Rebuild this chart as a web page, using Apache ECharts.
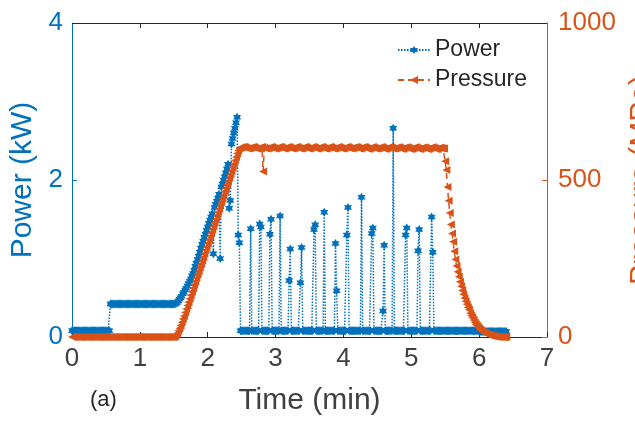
<!DOCTYPE html>
<html><head><meta charset="utf-8">
<script src="https://cdn.jsdelivr.net/npm/echarts@6/dist/echarts.min.js"></script>
<style>html,body{margin:0;padding:0;background:#fff}#c{width:635px;height:428px}</style>
</head><body><div id="c"></div>
<script>
// Samples are one second apart (time in minutes = index * SAMPLE_STEP_MIN)
const SAMPLE_STEP_MIN = 1 / 60;

// Power (kW), one value per second, 0 .. 6.4 min
const power = [
  // 0.0 - 0.5 min
  0.08,0.08,0.08,0.08,0.08,0.08,0.08,0.08,0.08,0.08, 0.08,0.08,0.08,0.08,0.08,0.08,0.08,0.08,0.08,0.08, 0.08,0.08,0.08,0.08,0.08,0.08,0.08,0.08,0.08,0.08,
  // 0.5 - 1.0
  0.08,0.08,0.08,0.08,0.42,0.42,0.42,0.42,0.42,0.42, 0.42,0.42,0.42,0.42,0.42,0.42,0.42,0.42,0.42,0.42, 0.42,0.42,0.42,0.42,0.42,0.42,0.42,0.42,0.42,0.42,
  // 1.0 - 1.5
  0.42,0.42,0.42,0.42,0.42,0.42,0.42,0.42,0.42,0.42, 0.42,0.42,0.42,0.42,0.42,0.42,0.42,0.42,0.42,0.42, 0.42,0.42,0.42,0.42,0.42,0.42,0.42,0.42,0.42,0.42,
  // 1.5 - 2.0
  0.42,0.42,0.43,0.44,0.46,0.48,0.50,0.52,0.55,0.57, 0.60,0.62,0.65,0.68,0.71,0.74,0.78,0.81,0.85,0.90, 0.94,0.99,1.03,1.08,1.13,1.18,1.22,1.27,1.31,1.36,
  // 2.0 - 2.5
  1.40,1.45,1.49,1.53,1.57,1.06,1.65,1.69,1.73,1.77, 1.82,1.00,1.91,1.95,2.00,2.04,2.09,2.14,2.20,1.64, 1.74,2.46,2.53,2.60,2.66,2.73,2.80,1.30,1.20,0.08,
  // 2.5 - 3.0
  0.08,0.08,0.08,0.08,0.08,0.08,0.08,0.08,1.38,0.08, 0.08,0.08,0.08,0.08,0.08,0.08,1.44,1.40,0.08,0.08, 0.08,0.08,0.08,0.08,0.08,1.31,1.50,0.08,0.08,0.08,
  // 3.0 - 3.5
  0.08,0.08,0.08,0.08,1.54,0.08,0.08,0.08,0.08,0.08, 0.08,0.08,0.72,1.12,0.08,0.08,0.08,0.08,0.08,0.08, 0.08,0.08,0.69,1.14,0.08,0.08,0.08,0.08,0.08,0.08,
  // 3.5 - 4.0
  0.08,0.08,0.08,0.08,1.37,1.43,0.08,0.08,0.08,0.08, 0.08,0.08,0.08,1.59,0.08,0.08,0.08,0.08,0.08,0.08, 0.08,0.08,0.08,1.19,0.59,0.08,0.08,0.08,0.08,0.08,
  // 4.0 - 4.5
  0.08,0.08,0.08,1.30,1.65,0.08,0.08,0.08,0.08,0.08, 0.08,0.08,0.08,0.08,0.08,0.08,1.78,0.08,0.08,0.08, 0.08,0.08,0.08,0.08,0.08,1.32,1.39,0.08,0.08,0.08,
  // 4.5 - 5.0
  0.08,0.08,0.08,0.08,0.08,0.33,1.17,0.08,0.08,0.08, 0.08,0.08,0.08,0.08,2.66,0.08,0.08,0.08,0.08,0.08, 0.08,0.08,0.08,0.08,0.08,1.30,1.39,0.08,0.08,0.08,
  // 5.0 - 5.5
  0.08,0.08,0.08,0.08,0.08,0.08,1.10,1.37,0.08,0.08, 0.08,0.08,0.08,0.08,0.08,0.08,0.08,0.08,1.53,1.08, 0.08,0.08,0.08,0.08,0.08,0.08,0.08,0.08,0.08,0.08,
  // 5.5 - 6.0
  0.08,0.08,0.08,0.08,0.08,0.08,0.08,0.08,0.08,0.08, 0.08,0.08,0.08,0.08,0.08,0.08,0.08,0.08,0.08,0.08, 0.08,0.08,0.08,0.08,0.08,0.08,0.08,0.08,0.08,0.08,
  // 6.0 - 6.4
  0.07,0.07,0.07,0.07,0.07,0.07,0.07,0.07,0.07,0.07, 0.07,0.07,0.07,0.07,0.07,0.07,0.07,0.07,0.07,0.07, 0.07,0.07,0.07,0.07,0.07
];

// Pressure (MPa), one value per second, 0 .. 6.4 min
const pressure = [
  // 0.0 - 1.5 min
  0,0,0,0,0,0,0,0,0,0, 0,0,0,0,0,0,0,0,0,0, 0,0,0,0,0,0,0,0,0,0,
  0,0,0,0,0,0,0,0,0,0, 0,0,0,0,0,0,0,0,0,0, 0,0,0,0,0,0,0,0,0,0,
  0,0,0,0,0,0,0,0,0,0, 0,0,0,0,0,0,0,0,0,0, 0,0,0,0,0,0,0,0,0,0,
  // 1.5 - 2.0
  0,2,6,12,20,28,37,47,57,67, 78,89,100,111,122,133,144,155,166,177, 188,199,210,221,232,243,254,265,276,287,
  // 2.0 - 2.5
  298,309,320,331,342,353,364,375,386,397, 408,419,430,441,452,463,474,485,496,507, 518,529,540,551,562,573,584,594,601,603,
  // 2.5 - 3.0
  604,605,605,604,602,601,600,601,603,604, 605,604,602,600,600,601,603,604,605,527, 603,601,600,600,602,604,605,604,602,600,
  // 3.0 - 3.5
  600,601,603,605,605,604,602,600,600,602, 604,605,604,602,601,600,601,603,605,605, 603,601,600,600,602,604,605,604,602,600,
  // 3.5 - 4.0
  600,602,604,605,604,602,600,600,601,603, 605,605,603,601,600,600,602,604,605,604, 602,600,600,601,603,605,605,603,601,600,
  // 4.0 - 4.5
  600,602,604,605,604,602,601,600,601,603, 604,605,604,602,600,600,602,604,605,604, 602,600,599,600,602,604,605,603,601,600,
  // 4.5 - 5.0
  600,601,603,605,604,602,600,599,600,602, 604,605,604,602,600,600,601,603,604,604, 602,600,599,600,602,604,604,603,601,599,
  // 5.0 - 5.5
  599,600,602,604,604,602,600,599,599,601, 603,604,603,601,599,599,600,602,604,604, 602,600,599,599,601,603,603,601,600,600,
  // 5.5 - 6.0
  560,532,478,434,395,358,330,303,273,247, 226,208,192,176,162,148,136,124,114,104, 95,87,76,68,61,54,47,41,36,31,
  // 6.0 - 6.4
  27,23,20,17,14,12,10,8,7,6, 5,4,3,2,2,1,1,0,0,0, 0,0,0,0,0
];

const xTickValues = [0, 1, 2, 3, 4, 5, 6, 7];
const powerTicks = [0, 2, 4];
const pressureTicks = [0, 500, 1000];

const BLUE = '#0072BD', ORANGE = '#D95319', AX = '#262626', TXT = '#404040';
const FONT = '"Liberation Sans", Arial, Helvetica, sans-serif';
const HEX = 'path://M0,-100 L28.9,-50 L86.6,-50 L57.7,0 L86.6,50 L28.9,50 L0,100 L-28.9,50 L-86.6,50 L-57.7,0 L-86.6,-50 L-28.9,-50 Z';

const powerData = power.map((v, i) => [i * SAMPLE_STEP_MIN, v]);
const pressureData = pressure.map((v, i) => [i * SAMPLE_STEP_MIN, v]);

const xMin = xTickValues[0], xMax = xTickValues[xTickValues.length - 1];
const pMax = pressureTicks[pressureTicks.length - 1];
// top frame edge (at the axis maximum) plus inward tick marks, placed through the axis scale
const frameLines = [[{coord: [xMin, pMax]}, {coord: [xMax, pMax]}]].concat(
  xTickValues.slice(1, -1).map(x => [{coord: [x, pMax]}, {coord: [x, pMax - 16]}])
);

const chart = echarts.init(document.getElementById('c'), null, {renderer: 'canvas'});
chart.setOption({
  animation: false,
  textStyle: {fontFamily: FONT},
  grid: {left: 72, right: 88, top: 23, bottom: 91, outerBoundsMode: 'none'},
  legend: {
    orient: 'vertical', left: 397, top: 37, padding: 0, itemWidth: 32, itemHeight: 10, itemGap: 4,
    textStyle: {fontSize: 23, color: AX, fontFamily: FONT, lineHeight: 26},
    data: ['Power', 'Pressure']
  },
  xAxis: [
    {
      type: 'value', min: xMin, max: xMax, interval: 1, position: 'bottom',
      axisLine: {show: true, onZero: false, lineStyle: {color: AX, width: 1}},
      axisTick: {show: true, inside: true, length: 5, lineStyle: {color: AX}},
      splitLine: {show: false},
      axisLabel: {show: true, fontSize: 26, color: TXT, margin: 9, fontFamily: FONT},
      name: 'Time (min)', nameLocation: 'middle', nameGap: 49,
      nameTextStyle: {fontSize: 30, color: TXT, fontFamily: FONT}
    }
  ],
  yAxis: [
    {
      type: 'value', position: 'left', min: powerTicks[0], max: powerTicks[powerTicks.length - 1], interval: 2,
      axisLine: {show: true, onZero: false, lineStyle: {color: BLUE, width: 1}},
      axisTick: {show: true, inside: true, length: 5, lineStyle: {color: BLUE}},
      axisLabel: {fontSize: 26, color: BLUE, margin: 9, fontFamily: FONT},
      splitLine: {show: false},
      name: 'Power (kW)', nameLocation: 'middle', nameGap: 32, nameRotate: 90,
      nameTextStyle: {fontSize: 30, color: BLUE, fontFamily: FONT}
    },
    {
      type: 'value', position: 'right', min: pressureTicks[0], max: pMax, interval: 500,
      axisLine: {show: true, onZero: false, lineStyle: {color: ORANGE, width: 1}},
      axisTick: {show: true, inside: true, length: 5, lineStyle: {color: ORANGE}},
      axisLabel: {fontSize: 26, color: ORANGE, margin: 11, fontFamily: FONT, formatter: v => String(v)},
      splitLine: {show: false},
      name: 'Pressure (MPa)', nameLocation: 'middle', nameGap: 71, nameRotate: 90,
      nameTextStyle: {fontSize: 30, color: ORANGE, fontFamily: FONT}
    }
  ],
  graphic: [{
    type: 'text', left: 90, top: 389,
    style: {text: '(a)', fontSize: 22, fill: AX, font: '22px ' + FONT}
  }],
  series: [
    {
      name: 'Power', type: 'line', xAxisIndex: 0, yAxisIndex: 0, data: powerData,
      showSymbol: true, symbol: HEX, symbolSize: [8, 9],
      itemStyle: {color: BLUE},
      lineStyle: {color: BLUE, width: 1.5, type: [1.5, 1.5]},
      emphasis: {disabled: true}, clip: false, z: 2
    },
    {
      name: 'Pressure', type: 'line', xAxisIndex: 0, yAxisIndex: 1, data: pressureData,
      showSymbol: true, symbol: 'triangle', symbolRotate: 90, symbolSize: 8,
      itemStyle: {color: ORANGE},
      lineStyle: {color: ORANGE, width: 1.5, type: [6, 4]},
      emphasis: {disabled: true}, clip: false, z: 3
    },
    {
      name: 'frame', type: 'line', xAxisIndex: 0, yAxisIndex: 1, data: [],
      silent: true, z: 1,
      markLine: {
        silent: true, animation: false, symbol: ['none', 'none'],
        label: {show: false}, emphasis: {disabled: true},
        lineStyle: {color: AX, width: 1, type: 'solid'},
        data: frameLines
      }
    }
  ]
});
</script>
</body></html>
